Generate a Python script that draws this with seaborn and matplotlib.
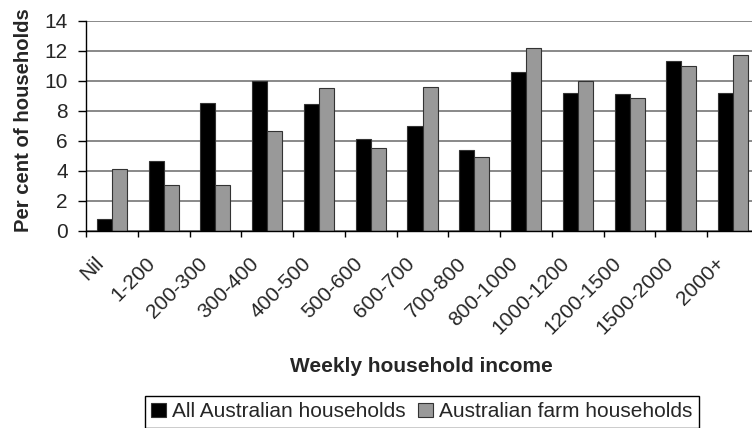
import matplotlib
matplotlib.use('Agg')
import matplotlib.pyplot as plt
import matplotlib.transforms as mtransforms
import seaborn as sns
import pandas as pd

# weekly household income bands
income_bands = ['Nil', '1-200', '200-300', '300-400', '400-500', '500-600',
                '600-700', '700-800', '800-1000', '1000-1200', '1200-1500',
                '1500-2000', '2000+']
# per cent of households
all_households = [0.8, 4.65, 8.5, 10.0, 8.45, 6.1, 7.0, 5.4, 10.55, 9.15, 9.1, 11.3, 9.15]
farm_households = [4.1, 3.05, 3.05, 6.65, 9.5, 5.5, 9.55, 4.9, 12.2, 10.0, 8.85, 11.0, 11.7]
series_names = ['All Australian households', 'Australian farm households']

df = pd.DataFrame({
    'band': income_bands * 2,
    'pct': all_households + farm_households,
    'series': [series_names[0]] * len(income_bands) + [series_names[1]] * len(income_bands),
})

sns.set_style('white')
plt.rcParams['font.family'] = ['Liberation Sans', 'DejaVu Sans']
plt.rcParams['font.size'] = 15

fig = plt.figure(figsize=(7.52, 4.28), dpi=100)
ax = fig.add_axes([86 / 752, 1 - 231 / 428, 673 / 752, 210.5 / 428])

sns.barplot(data=df, x='band', y='pct', hue='series', order=income_bands,
            hue_order=series_names, palette=['black', '#999999'],
            width=0.58, gap=0, edgecolor='#333333', linewidth=0.8,
            ax=ax, legend=True)

# style
ax.set_ylim(0, 14)
ax.set_xlim(-0.5, len(income_bands) - 0.5)
ax.set_yticks(range(0, 15, 2))
ax.yaxis.grid(True, color='#808080', linewidth=1.3)
ax.set_axisbelow(True)
for side in ['top', 'right']:
    ax.spines[side].set_visible(False)
for side in ['left', 'bottom']:
    ax.spines[side].set_color('black')
    ax.spines[side].set_linewidth(1)

ax.tick_params(axis='y', which='major', left=True, length=6, width=1,
               color='black', labelsize=15, pad=7)
ax.tick_params(axis='x', which='major', bottom=False, labelsize=15, pad=17.5)
ax.set_xticks([i - 0.5 for i in range(len(income_bands) + 1)], minor=True)
ax.tick_params(axis='x', which='minor', bottom=True, length=4.5, width=1, color='black')

offset = mtransforms.ScaledTranslation(-11 / 100, 0, fig.dpi_scale_trans)
for lbl in ax.get_xticklabels():
    lbl.set_rotation(45)
    lbl.set_ha('right')
    lbl.set_va('center')
    lbl.set_rotation_mode('anchor')
    lbl.set_transform(lbl.get_transform() + offset)

ax.set_xlabel('Weekly household income', fontweight='bold', fontsize=15)
ax.xaxis.label.set_va('center')
ax.xaxis.set_label_coords(0.4985, -0.645)
ax.set_ylabel('Per cent of households', fontweight='bold', fontsize=14.6)
ax.yaxis.label.set_va('center')
ax.yaxis.set_label_coords(-0.0936, 0.527)

# legend below the axis title
handles, labels = ax.get_legend_handles_labels()
ax.legend(handles=handles, labels=labels, ncol=2, loc='upper center',
          bbox_to_anchor=(422 / 752, 1 - 396 / 428), bbox_transform=fig.transFigure,
          borderaxespad=0, frameon=True, fancybox=False, edgecolor='black',
          framealpha=1, handlelength=0.7, handleheight=0.7, handletextpad=0.3,
          columnspacing=0.6, borderpad=0.3, fontsize=15)

fig.savefig('out.png', dpi=100)
